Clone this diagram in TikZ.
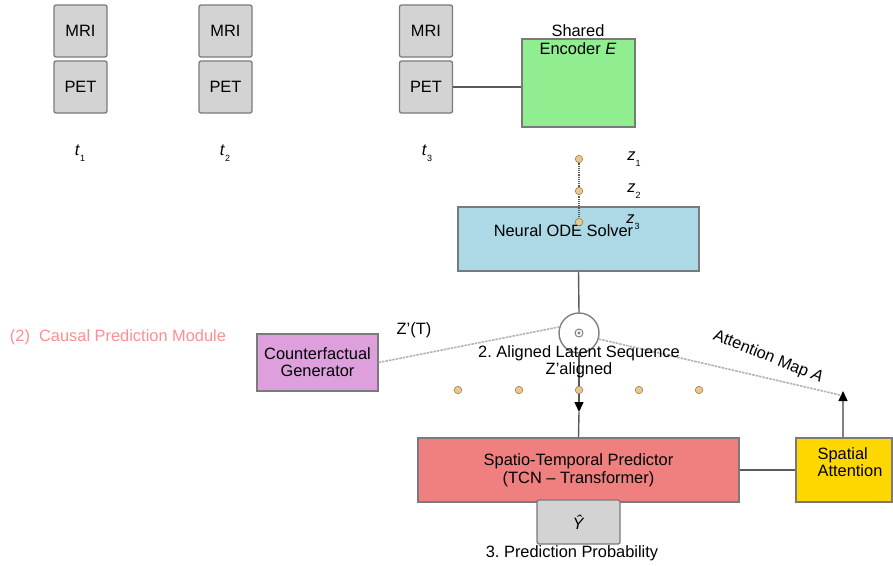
\documentclass[tikz,border=0pt]{standalone}
\usepackage{fontspec}
\setmainfont{Liberation Sans}
\usetikzlibrary{shapes,arrows.meta,positioning}
\definecolor{boxgray}{HTML}{D3D3D3}
\definecolor{edgegray}{HTML}{7A7A7A}
\definecolor{linegray}{HTML}{5A5A5A}
\definecolor{encgreen}{HTML}{90EE90}
\definecolor{odeblue}{HTML}{ADD8E6}
\definecolor{cfplum}{HTML}{DDA0DD}
\definecolor{predred}{HTML}{F08080}
\definecolor{attgold}{HTML}{FFD700}
\definecolor{modpink}{HTML}{FF8E8E}
\definecolor{dottan}{HTML}{E8C890}
\definecolor{dotedge}{HTML}{A08050}
\frenchspacing
\begin{document}
\begin{tikzpicture}[x=1pt,y=-1pt,font=\fontsize{16.4}{19}\selectfont]
        \tikzstyle{scan} = [rectangle, rounded corners=2pt, draw=edgegray, line width=1.3pt, fill=boxgray, minimum width=53pt, minimum height=52pt, inner sep=0pt]
        \tikzstyle{block} = [rectangle, draw=edgegray, line width=1.2pt, align=center, inner sep=0pt]
        \tikzstyle{latent} = [circle, draw=dotedge, fill=dottan, line width=0.6pt, minimum size=7.5pt, inner sep=0pt]
        \tikzstyle{conn} = [draw=linegray, line width=1.4pt]
        \tikzstyle{faint} = [draw=gray!60, line width=1.6pt, dash pattern=on 2.5pt off 1pt]
        \tikzstyle{tip} = [-{Triangle[length=10pt,width=9pt,color=black]}]
        \newcommand{\tstep}[1]{\textit{t}\raisebox{-0.7ex}{\fontsize{9}{10}\selectfont #1}}
        \newcommand{\zstep}[1]{\textit{z}\raisebox{-0.7ex}{\fontsize{9}{10}\selectfont #1}}

        \useasboundingbox (0,0) rectangle (893,565);

        % scans at three time points
        \node[scan] (mri1) at (80.5,31) {MRI};
        \node[scan] (pet1) at (80.5,87) {PET};
        \node[scan] (mri2) at (225.5,31) {MRI};
        \node[scan] (pet2) at (225.5,87) {PET};
        \node[scan] (mri3) at (426,31) {MRI};
        \node[scan] (pet3) at (426,87) {PET};
        \node (t1) at (80,153) {\tstep{1}};
        \node (t2) at (225,153) {\tstep{2}};
        \node (t3) at (427,153) {\tstep{3}};

        % encoder and ODE solver
        \node[block, fill=encgreen, minimum width=113pt, minimum height=88pt] (enc) at (578.5,83) {};
        \node[align=center, inner sep=0pt] (enclabel) at (578,40) {Shared\\[-1pt]Encoder \textit{E}};
        \draw[conn] (pet3.east) -- (pet3.east -| enc.west);
        \node[block, fill=odeblue, minimum width=241pt, minimum height=64pt,
              label={[xshift=-15pt,yshift=8pt]center:Neural ODE Solver}] (ode) at (578.5,239) {};

        \draw[draw=linegray, line width=1.2pt, densely dotted] (579,159) -- (579,222);
        \node[latent] (z1) at (579,159) {};
        \node[latent] (z2) at (579,191) {};
        \node[latent] (z3) at (579,222) {};
        \node (z1label) at (634,159) {\zstep{1}};
        \node (z2label) at (634,191) {\zstep{2}};
        \node (z3label) at (633,222) {\zstep{3}};

        % alignment and prediction
        \node[circle, draw=gray, line width=1.4pt, fill=white, minimum size=40pt, inner sep=0pt] (align) at (579,333) {};
        \draw[gray, line width=1pt] (align.center) circle (4);
        \fill[gray] (align.center) circle (1.6);
        \draw[conn] (ode.south) -- (align.north);

        \node[block, fill=cfplum, minimum width=121pt, minimum height=57pt] (cf) at (317.5,362.5) {Counterfactual\\[-2pt]Generator};
        \node[block, fill=predred, minimum width=321pt, minimum height=64pt] (pred) at (578.5,470) {Spatio-Temporal Predictor\\[-1pt](TCN -- Transformer)};
        \node[block, fill=attgold, minimum width=96pt, minimum height=64pt,
              label={[xshift=6pt,yshift=8pt,align=left]center:Spatial\\[-2pt]Attention}] (spatial) at (844,470) {};
        \node[rectangle, rounded corners=2pt, draw=edgegray, line width=1.3pt, fill=boxgray, minimum width=83pt, minimum height=44pt] (yhat) at (578.5,522) {\textit{Ŷ}};

        \coordinate (downtip) at (579,412);
        \coordinate (attntip) at (843,391);
        \draw[conn, tip] (align.south) -- (downtip);
        \draw[conn] (downtip) -- (pred.north);
        \draw[conn, draw=gray, tip] (spatial.north -| attntip) -- (attntip);
        \draw[conn] (pred.east) -- (spatial.west);
        \draw[faint] (cf.east) -- (align.163);
        \draw[faint] (align.-17) -- ([xshift=-3pt,yshift=-4pt]attntip);

        \foreach \x [count=\i] in {458,519,579,639,699}
          \node[latent] (d\i) at (\x,390) {};

        % labels
        \node (zt) at (414,330) {Z'(T)};
        \node[align=center, inner sep=0pt] (seq) at (579,362) {2. Aligned Latent Sequence\\[-2pt]Z'aligned};
        \node[rotate=-22] (attnlabel) at (768,357) {Attention Map \textit{A}};
        \node[text=modpink] (module) at (118,337) {(2)\ \ Causal Prediction Module};
        \node (prob) at (572,553) {3. Prediction Probability};
      \end{tikzpicture}
\end{document}
